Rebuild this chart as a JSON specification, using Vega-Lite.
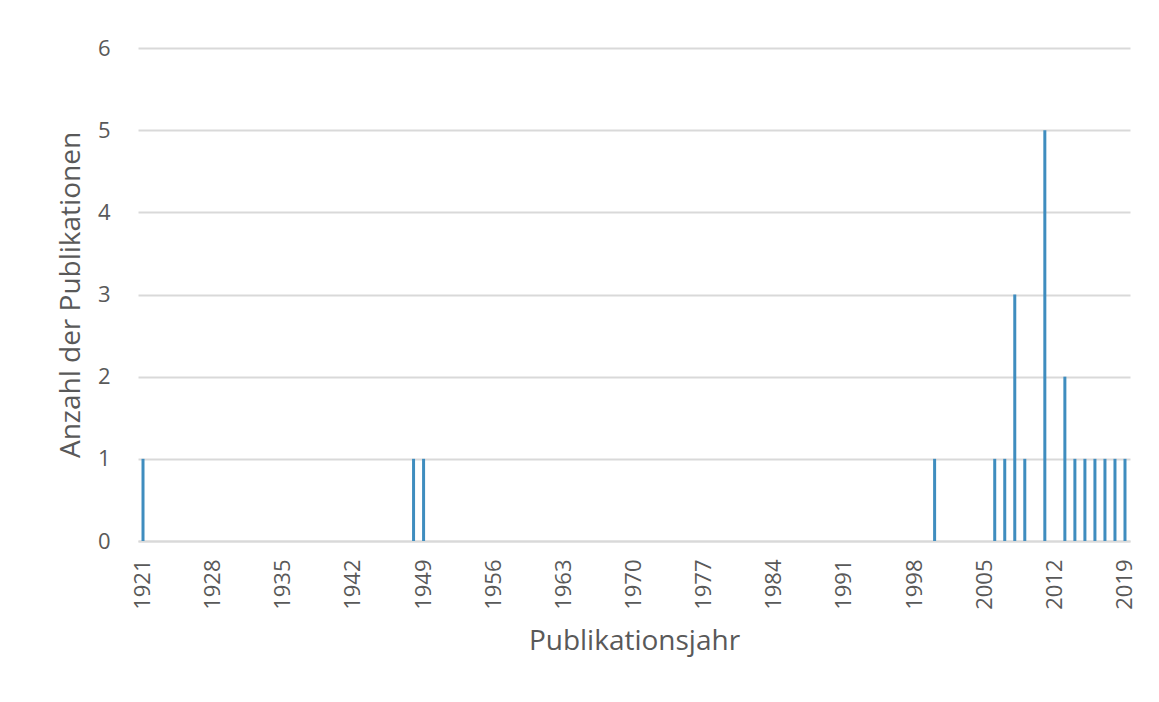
{
  "$schema": "https://vega.github.io/schema/vega-lite/v6.json",
  "width": 992,
  "height": 493,
  "autosize": {"type": "none"},
  "padding": {"left": 138, "top": 48, "right": 29, "bottom": 161},
  "background": "#ffffff",
  "config": {
    "view": {"stroke": null},
    "font": "Open Sans",
    "axis": {
      "labelColor": "#595959",
      "titleColor": "#595959",
      "labelFont": "Open Sans",
      "titleFont": "Open Sans",
      "titleFontWeight": "normal"
    }
  },
  "data": {
    "values": [
      {"year": 1921, "count": 1},
      {"year": 1948, "count": 1},
      {"year": 1949, "count": 1},
      {"year": 2000, "count": 1},
      {"year": 2006, "count": 1},
      {"year": 2007, "count": 1},
      {"year": 2008, "count": 3},
      {"year": 2009, "count": 1},
      {"year": 2011, "count": 5},
      {"year": 2013, "count": 2},
      {"year": 2014, "count": 1},
      {"year": 2015, "count": 1},
      {"year": 2016, "count": 1},
      {"year": 2017, "count": 1},
      {"year": 2018, "count": 1},
      {"year": 2019, "count": 1}
    ]
  },
  "mark": {"type": "bar", "color": "#3f8dbf"},
  "encoding": {
    "x": {
      "field": "year",
      "type": "ordinal",
      "scale": {
        "domain": [1921,1922,1923,1924,1925,1926,1927,1928,1929,1930,1931,1932,1933,1934,1935,1936,1937,1938,1939,1940,1941,1942,1943,1944,1945,1946,1947,1948,1949,1950,1951,1952,1953,1954,1955,1956,1957,1958,1959,1960,1961,1962,1963,1964,1965,1966,1967,1968,1969,1970,1971,1972,1973,1974,1975,1976,1977,1978,1979,1980,1981,1982,1983,1984,1985,1986,1987,1988,1989,1990,1991,1992,1993,1994,1995,1996,1997,1998,1999,2000,2001,2002,2003,2004,2005,2006,2007,2008,2009,2010,2011,2012,2013,2014,2015,2016,2017,2018,2019],
        "paddingInner": 0.7,
        "paddingOuter": 0.35
      },
      "axis": {
        "title": "Publikationsjahr",
        "values": [1921,1928,1935,1942,1949,1956,1963,1970,1977,1984,1991,1998,2005,2012,2019],
        "labelAngle": 270,
        "labelFontSize": 22,
        "labelPadding": 18,
        "ticks": false,
        "domainColor": "#d9d9d9",
        "domainWidth": 2,
        "titleFontSize": 28,
        "titlePadding": 18
      }
    },
    "y": {
      "field": "count",
      "type": "quantitative",
      "scale": {"domain": [0, 6]},
      "axis": {
        "title": "Anzahl der Publikationen",
        "values": [0,1,2,3,4,5,6],
        "format": "d",
        "domain": false,
        "ticks": false,
        "gridColor": "#d9d9d9",
        "gridWidth": 2,
        "labelFontSize": 22,
        "labelPadding": 28,
        "titleFontSize": 28,
        "titlePadding": 12
      }
    }
  }
}
